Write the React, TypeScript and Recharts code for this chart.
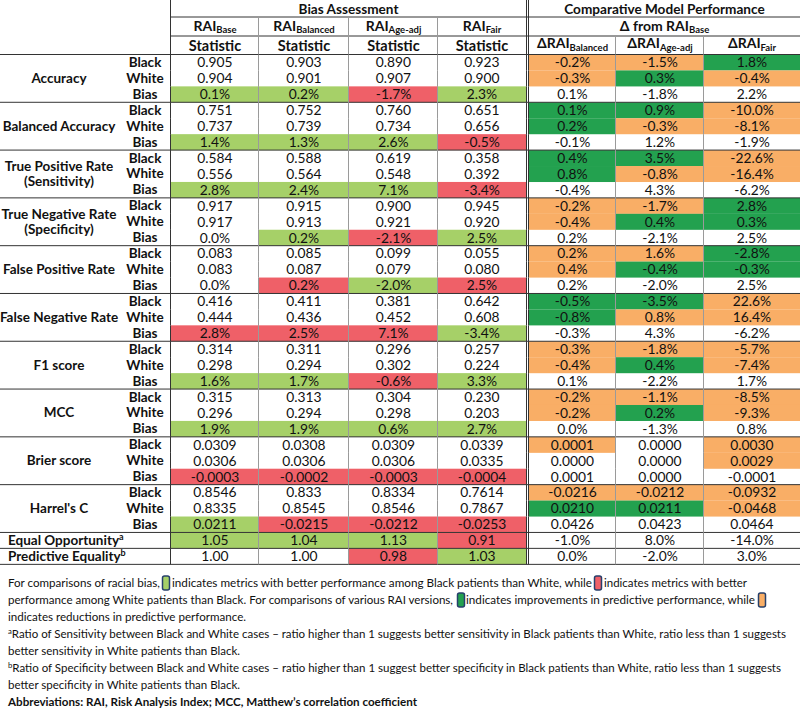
import React from "react";
import { Bar, BarChart, Customized, XAxis, YAxis } from "recharts";

const W = 800;
const H = 722;
const FONT = "Lato, 'Open Sans', sans-serif";
const INK = "#111";
const DARK_LINE = "#333";
const GRAY_LINE = "#9a9a9a";

// category of each cell: g = better among Black, r = better among White,
// G = improvement vs base, O = reduction vs base, . = none
const MARK_COLORS: Record<string, string> = {
  g: "#a6d068",
  r: "#ef6068",
  G: "#23a14f",
  O: "#f9ae66",
};

const MODELS = ["Base", "Balanced", "Age-adj", "Fair"];
const DELTA_MODELS = ["Balanced", "Age-adj", "Fair"];
const SUBROWS = ["Black", "White", "Bias"];

const GROUPS = [
  "Accuracy",
  "Balanced Accuracy",
  "True Positive Rate\n(Sensitivity)",
  "True Negative Rate\n(Specificity)",
  "False Positive Rate",
  "False Negative Rate",
  "F1 score",
  "MCC",
  "Brier score",
  "Harrel's C",
];

const ACCURACY = [
  ["0.905", "0.903", "0.890", "0.923", "-0.2%", "-1.5%", "1.8%"],
  ["0.904", "0.901", "0.907", "0.900", "-0.3%", "0.3%", "-0.4%"],
  ["0.1%", "0.2%", "-1.7%", "2.3%", "0.1%", "-1.8%", "2.2%"],
];
const ACCURACY_MARK = ["....OOG", "....OGO", "ggrg..."];

const BAL_ACC = [
  ["0.751", "0.752", "0.760", "0.651", "0.1%", "0.9%", "-10.0%"],
  ["0.737", "0.739", "0.734", "0.656", "0.2%", "-0.3%", "-8.1%"],
  ["1.4%", "1.3%", "2.6%", "-0.5%", "-0.1%", "1.2%", "-1.9%"],
];
const BAL_ACC_MARK = ["....GGO", "....GOO", "gggr..."];

const TPR = [
  ["0.584", "0.588", "0.619", "0.358", "0.4%", "3.5%", "-22.6%"],
  ["0.556", "0.564", "0.548", "0.392", "0.8%", "-0.8%", "-16.4%"],
  ["2.8%", "2.4%", "7.1%", "-3.4%", "-0.4%", "4.3%", "-6.2%"],
];
const TPR_MARK = ["....GGO", "....GOO", "gggr..."];

const TNR = [
  ["0.917", "0.915", "0.900", "0.945", "-0.2%", "-1.7%", "2.8%"],
  ["0.917", "0.913", "0.921", "0.920", "-0.4%", "0.4%", "0.3%"],
  ["0.0%", "0.2%", "-2.1%", "2.5%", "0.2%", "-2.1%", "2.5%"],
];
const TNR_MARK = ["....OOG", "....OGG", ".grg..."];

const FPR = [
  ["0.083", "0.085", "0.099", "0.055", "0.2%", "1.6%", "-2.8%"],
  ["0.083", "0.087", "0.079", "0.080", "0.4%", "-0.4%", "-0.3%"],
  ["0.0%", "0.2%", "-2.0%", "2.5%", "0.2%", "-2.0%", "2.5%"],
];
const FPR_MARK = ["....OOG", "....OGG", ".rgr..."];

const FNR = [
  ["0.416", "0.411", "0.381", "0.642", "-0.5%", "-3.5%", "22.6%"],
  ["0.444", "0.436", "0.452", "0.608", "-0.8%", "0.8%", "16.4%"],
  ["2.8%", "2.5%", "7.1%", "-3.4%", "-0.3%", "4.3%", "-6.2%"],
];
const FNR_MARK = ["....GGO", "....GOO", "rrrg..."];

const F1 = [
  ["0.314", "0.311", "0.296", "0.257", "-0.3%", "-1.8%", "-5.7%"],
  ["0.298", "0.294", "0.302", "0.224", "-0.4%", "0.4%", "-7.4%"],
  ["1.6%", "1.7%", "-0.6%", "3.3%", "0.1%", "-2.2%", "1.7%"],
];
const F1_MARK = ["....OOO", "....OGO", "ggrg..."];

const MCC = [
  ["0.315", "0.313", "0.304", "0.230", "-0.2%", "-1.1%", "-8.5%"],
  ["0.296", "0.294", "0.298", "0.203", "-0.2%", "0.2%", "-9.3%"],
  ["1.9%", "1.9%", "0.6%", "2.7%", "0.0%", "-1.3%", "0.8%"],
];
const MCC_MARK = ["....OOO", "....OGO", "gggg..."];

const BRIER = [
  ["0.0309", "0.0308", "0.0309", "0.0339", "0.0001", "0.0000", "0.0030"],
  ["0.0306", "0.0306", "0.0306", "0.0335", "0.0000", "0.0000", "0.0029"],
  ["-0.0003", "-0.0002", "-0.0003", "-0.0004", "0.0001", "0.0000", "-0.0001"],
];
const BRIER_MARK = ["....O.O", "......O", "rrrr..."];

const HARREL = [
  ["0.8546", "0.833", "0.8334", "0.7614", "-0.0216", "-0.0212", "-0.0932"],
  ["0.8335", "0.8545", "0.8546", "0.7867", "0.0210", "0.0211", "-0.0468"],
  ["0.0211", "-0.0215", "-0.0212", "-0.0253", "0.0426", "0.0423", "0.0464"],
];
const HARREL_MARK = ["....OOO", "....GGO", "grrr..."];

const EQUAL_OPP = ["1.05", "1.04", "1.13", "0.91", "-1.0%", "8.0%", "-14.0%"];
const EQUAL_OPP_MARK = "gggr...";
const PRED_EQ = ["1.00", "1.00", "0.98", "1.03", "0.0%", "-2.0%", "3.0%"];
const PRED_EQ_MARK = "..rg...";

const GROUP_VALUES = [ACCURACY, BAL_ACC, TPR, TNR, FPR, FNR, F1, MCC, BRIER, HARREL];
const GROUP_MARKS = [
  ACCURACY_MARK, BAL_ACC_MARK, TPR_MARK, TNR_MARK, FPR_MARK,
  FNR_MARK, F1_MARK, MCC_MARK, BRIER_MARK, HARREL_MARK,
];

// layout: column widths in px (label column is the Y axis, 171px)
const LABEL_W = 171;
const COL_W = [88, 90, 89, 91, 87, 88, 96];
const TOTAL = COL_W.reduce((a, b) => a + b, 0);
const COL_X = COL_W.map((_, i) => LABEL_W + COL_W.slice(0, i).reduce((a, b) => a + b, 0));
const TABLE_TOP = 54.5;
const TABLE_BOTTOM = 564.3;

type Row = {
  id: string;
  group: string;
  sub: string;
  vals: string[];
  marks: string;
  start: boolean;
  mid: boolean;
  single: boolean;
  sup?: string;
  [k: string]: any;
};

const rows: Row[] = [];
GROUPS.forEach((g, gi) => {
  SUBROWS.forEach((s, si) => {
    const r: Row = {
      id: `${gi}-${si}`,
      group: g,
      sub: s,
      vals: GROUP_VALUES[gi][si],
      marks: GROUP_MARKS[gi][si],
      start: si === 0,
      mid: si === 1,
      single: false,
    };
    COL_W.forEach((w, k) => (r[`c${k}`] = w));
    rows.push(r);
  });
});
[
  { group: "Equal Opportunity", sup: "a", vals: EQUAL_OPP, marks: EQUAL_OPP_MARK },
  { group: "Predictive Equality", sup: "b", vals: PRED_EQ, marks: PRED_EQ_MARK },
].forEach((e, i) => {
  const r: Row = { id: `x-${i}`, sub: "", start: true, mid: false, single: true, ...e };
  COL_W.forEach((w, k) => (r[`c${k}`] = w));
  rows.push(r);
});
const rowById: Record<string, Row> = {};
rows.forEach((r) => (rowById[r.id] = r));
const LAST_ID = rows[rows.length - 1].id;

function RowTick(props: any) {
  const { y, payload } = props;
  const row = rowById[payload.value];
  if (!row) return null;
  const base = y + 4.5;
  const common = { fontFamily: FONT, fontSize: 13.5, fontWeight: 700, fill: INK };
  if (row.single) {
    return (
      <text x={8} y={base} {...common}>
        {row.group}
        <tspan dy={-5} fontSize={9}>{row.sup}</tspan>
      </text>
    );
  }
  const lines = row.group.split("\n");
  return (
    <g>
      <text x={145} y={base} textAnchor="middle" {...common}>{row.sub}</text>
      {row.mid &&
        lines.map((l, i) => (
          <text key={l} x={59} y={base + (lines.length === 1 ? 0 : i === 0 ? -7.5 : 8)} textAnchor="middle" {...common}>
            {l}
          </text>
        ))}
    </g>
  );
}

function makeCell(k: number) {
  return (props: any) => {
    const { x, y, width, height, payload } = props;
    const row = payload as Row;
    const fill = MARK_COLORS[row.marks[k]];
    const fw = k === 3 ? width - 3 : width;
    return (
      <g>
        {fill && <rect x={x} y={y} width={fw} height={height} fill={fill} />}
        <text
          x={x + fw / 2}
          y={y + height / 2 + 4.8}
          textAnchor="middle"
          fontFamily={FONT}
          fontSize={13.8}
          fill={INK}
        >
          {row.vals[k]}
        </text>
        {k === 4 ? (
          <>
            <line x1={x - 2.5} x2={x - 2.5} y1={y} y2={y + height} stroke={DARK_LINE} />
            <line x1={x - 0.5} x2={x - 0.5} y1={y} y2={y + height} stroke={DARK_LINE} />
          </>
        ) : (
          <line x1={x - 0.5} x2={x - 0.5} y1={y} y2={y + height} stroke={k === 0 ? DARK_LINE : GRAY_LINE} />
        )}
        {row.start && <line x1={k === 0 ? 0 : x} x2={x + width} y1={y} y2={y} stroke={DARK_LINE} />}
        {row.id === LAST_ID && <line x1={k === 0 ? 0 : x} x2={x + width} y1={y + height} y2={y + height} stroke={DARK_LINE} />}
      </g>
    );
  };
}

function RaiLabel({ y, cx, sub, delta }: { y: number; cx: number; sub: string; delta?: string }) {
  return (
    <text x={cx} y={y} textAnchor="middle" fontFamily={FONT} fontWeight={700} fontSize={14} fill={INK}>
      {delta}RAI
      <tspan fontSize={9.5} dy={2.5}>{sub}</tspan>
    </text>
  );
}

function Header() {
  const bold = { fontFamily: FONT, fontWeight: 700, fill: INK };
  const cxs = COL_W.map((w, i) => COL_X[i] + w / 2);
  cxs[3] -= 1.5;
  const deltaLeft = COL_X[4];
  return (
    <g>
      <line x1={LABEL_W} x2={W} y1={17} y2={17} stroke={DARK_LINE} />
      <line x1={LABEL_W} x2={W} y1={36} y2={36} stroke={DARK_LINE} />
      <line x1={0} x2={W} y1={TABLE_TOP} y2={TABLE_TOP} stroke={DARK_LINE} />
      <line x1={LABEL_W - 0.5} x2={LABEL_W - 0.5} y1={0} y2={TABLE_TOP} stroke={DARK_LINE} />
      <line x1={deltaLeft - 2.5} x2={deltaLeft - 2.5} y1={0} y2={TABLE_TOP} stroke={DARK_LINE} />
      <line x1={deltaLeft - 0.5} x2={deltaLeft - 0.5} y1={0} y2={TABLE_TOP} stroke={DARK_LINE} />
      {[1, 2, 3].map((k) => (
        <line key={k} x1={COL_X[k] - 0.5} x2={COL_X[k] - 0.5} y1={17} y2={TABLE_TOP} stroke={GRAY_LINE} />
      ))}
      {[5, 6].map((k) => (
        <line key={k} x1={COL_X[k] - 0.5} x2={COL_X[k] - 0.5} y1={36} y2={TABLE_TOP} stroke={GRAY_LINE} />
      ))}
      <text x={(LABEL_W + deltaLeft - 3) / 2} y={13.5} textAnchor="middle" fontSize={13.6} {...bold}>
        Bias Assessment
      </text>
      <text x={(deltaLeft + W) / 2} y={13.5} textAnchor="middle" fontSize={13.6} {...bold}>
        Comparative Model Performance
      </text>
      {MODELS.map((m, i) => (
        <RaiLabel key={m} cx={cxs[i]} y={30.5} sub={m} />
      ))}
      <text x={(deltaLeft + W) / 2} y={30.5} textAnchor="middle" fontSize={14} {...bold}>
        Δ from RAI<tspan fontSize={9.5} dy={2.5}>Base</tspan>
      </text>
      {MODELS.map((m, i) => (
        <text key={m} x={cxs[i]} y={50.5} textAnchor="middle" fontSize={14.5} {...bold}>
          Statistic
        </text>
      ))}
      {DELTA_MODELS.map((m, i) => (
        <RaiLabel key={m} cx={cxs[4 + i]} y={48} sub={m} delta="Δ" />
      ))}
    </g>
  );
}

function Box({ x, y, color }: { x: number; y: number; color: string }) {
  return <rect x={x + 0.5} y={y - 7} width={7} height={14} rx={2} fill={color} stroke="#27406b" strokeWidth={1.5} />;
}

function Seg({ x, y, w, children, bold }: { x: number; y: number; w: number; children: any; bold?: boolean }) {
  return (
    <text
      x={x}
      y={y + 4.2}
      textLength={w}
      lengthAdjust="spacingAndGlyphs"
      fontFamily={FONT}
      fontSize={11.2}
      fontWeight={bold ? 700 : 400}
      fill={INK}
    >
      {children}
    </text>
  );
}

function Footnote() {
  const ys = [583, 600, 617, 634, 651, 668, 685, 702];
  return (
    <g>
      <Seg x={8} y={ys[0]} w={152}>For comparisons of racial bias,</Seg>
      <Box x={162} y={ys[0]} color={MARK_COLORS.g} />
      <Seg x={172} y={ys[0]} w={420}>indicates metrics with better performance among Black patients than White, while</Seg>
      <Box x={594} y={ys[0]} color={MARK_COLORS.r} />
      <Seg x={604} y={ys[0]} w={143}>indicates metrics with better</Seg>
      <Seg x={8} y={ys[1]} w={445}>performance among White patients than Black. For comparisons of various RAI versions,</Seg>
      <Box x={457} y={ys[1]} color={MARK_COLORS.G} />
      <Seg x={466} y={ys[1]} w={289}>indicates improvements in predictive performance, while</Seg>
      <Box x={758} y={ys[1]} color={MARK_COLORS.O} />
      <Seg x={8} y={ys[2]} w={238}>indicates reductions in predictive performance.</Seg>
      <Seg x={8} y={ys[3]} w={778}>
        <tspan fontSize={7.5} dy={-4}>a</tspan>
        <tspan dy={4}>
          Ratio of Sensitivity between Black and White cases – ratio higher than 1 suggests better sensitivity in Black patients than White, ratio less than 1 suggests
        </tspan>
      </Seg>
      <Seg x={8} y={ys[4]} w={232}>better sensitivity in White patients than Black.</Seg>
      <Seg x={8} y={ys[5]} w={773}>
        <tspan fontSize={7.5} dy={-4}>b</tspan>
        <tspan dy={4}>
          Ratio of Specificity between Black and White cases – ratio higher than 1 suggest better specificity in Black patients than White, ratio less than 1 suggests
        </tspan>
      </Seg>
      <Seg x={8} y={ys[6]} w={232}>better specificity in White patients than Black.</Seg>
      <Seg x={8} y={ys[7]} w={409} bold>
        Abbreviations: RAI, Risk Analysis Index; MCC, Matthew’s correlation coefficient
      </Seg>
    </g>
  );
}

export default function App() {
  return (
    <div style={{ position: "absolute", left: 0, top: 0, width: W, height: H, background: "#fff" }}>
      <BarChart
        layout="vertical"
        width={W}
        height={H}
        data={rows}
        margin={{ top: TABLE_TOP, right: 0, bottom: H - TABLE_BOTTOM, left: 0 }}
        barCategoryGap={0}
        barGap={0}
      >
        <XAxis type="number" hide domain={[0, TOTAL]} />
        <YAxis
          type="category"
          dataKey="id"
          width={LABEL_W}
          interval={0}
          tickLine={false}
          axisLine={false}
          tick={RowTick}
        />
        {COL_W.map((_, k) => (
          <Bar key={k} dataKey={`c${k}`} stackId="t" isAnimationActive={false} shape={makeCell(k)} />
        ))}
        <Customized component={Header} />
        <Customized component={Footnote} />
      </BarChart>
    </div>
  );
}
